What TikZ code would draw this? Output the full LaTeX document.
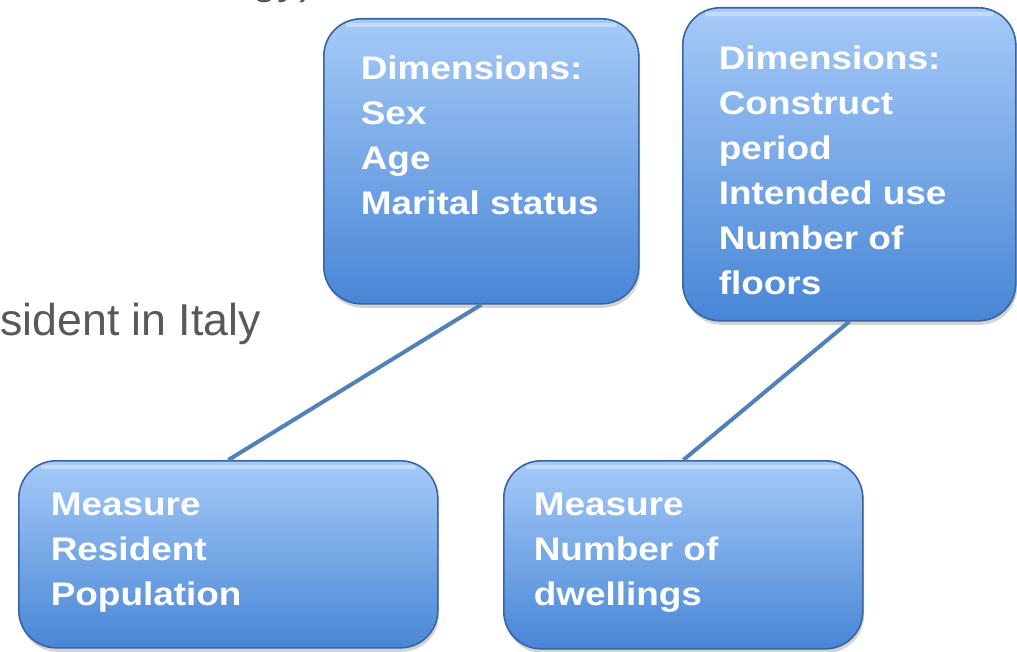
\documentclass[tikz,border=0pt]{standalone}
\usepackage{fontspec}
\setmainfont{Liberation Sans}
\newfontfamily\panelfont[FakeStretch=1.13]{Liberation Sans}
\usetikzlibrary{shadows}
\definecolor{paneltop}{RGB}{166,202,248}
\definecolor{panelbot}{RGB}{72,134,214}
\definecolor{paneledge}{RGB}{58,100,160}
\definecolor{linkblue}{RGB}{79,129,189}
\definecolor{bodygray}{RGB}{89,89,89}

\begin{document}
\begin{tikzpicture}
    [
    x=0.75pt, y=-0.75pt,
    panel/.style={rectangle, rounded corners=28pt, draw=paneledge, line width=1.2pt,
      top color=paneltop, bottom color=panelbot,
      drop shadow={shadow xshift=1pt, shadow yshift=-3pt, opacity=0.35},
      path picture={\draw [white, opacity=0.35, line width=3pt, line cap=round]
        ([xshift=18pt,yshift=-5pt]path picture bounding box.north west) --
        ([xshift=-18pt,yshift=-5pt]path picture bounding box.north east);},
      anchor=north west, text=white,
      font=\panelfont\bfseries\fontsize{24.5}{33.75}\selectfont},
    link/.style={draw=linkblue, line width=3pt},
    body/.style={text=bodygray, font=\fontsize{33.5}{40}\selectfont, inner sep=0pt},
    ]
    \useasboundingbox (0,0) rectangle (1017,652);

    % text of the slide behind the panels
    \node (title) at (315,-6) [body, anchor=base east] {gy)};
    \node (resident) at (0,335) [body, anchor=base west] {sident in Italy};

    % dimension panels
    \node (dims1) at (323,18) [panel, inner xsep=27.75pt, inner ysep=27.75pt]
      {\parbox[c][158.25pt][t]{180.75pt}{Dimensions:\\Sex\\Age\\Marital status}};
    \node (dims2) at (682,7) [panel, inner xsep=27pt, inner ysep=28.5pt]
      {\parbox[c][177.75pt][t]{195.75pt}{Dimensions:\\Construct\\period\\Intended use\\Number of\\floors}};

    % measure panels
    \node (meas1) at (18,460) [panel, inner xsep=24pt, inner ysep=24pt]
      {\parbox[c][92.25pt][t]{266.25pt}{Measure\\Resident\\Population}};
    \node (meas2) at (503,460) [panel, inner xsep=22.5pt, inner ysep=24pt]
      {\parbox[c][93pt][t]{224.25pt}{Measure\\Number of\\dwellings}};

    \draw [link] (dims1.south) to (meas1.north);
    \draw [link] (dims2.south) to (meas2.north);
\end{tikzpicture}
\end{document}
